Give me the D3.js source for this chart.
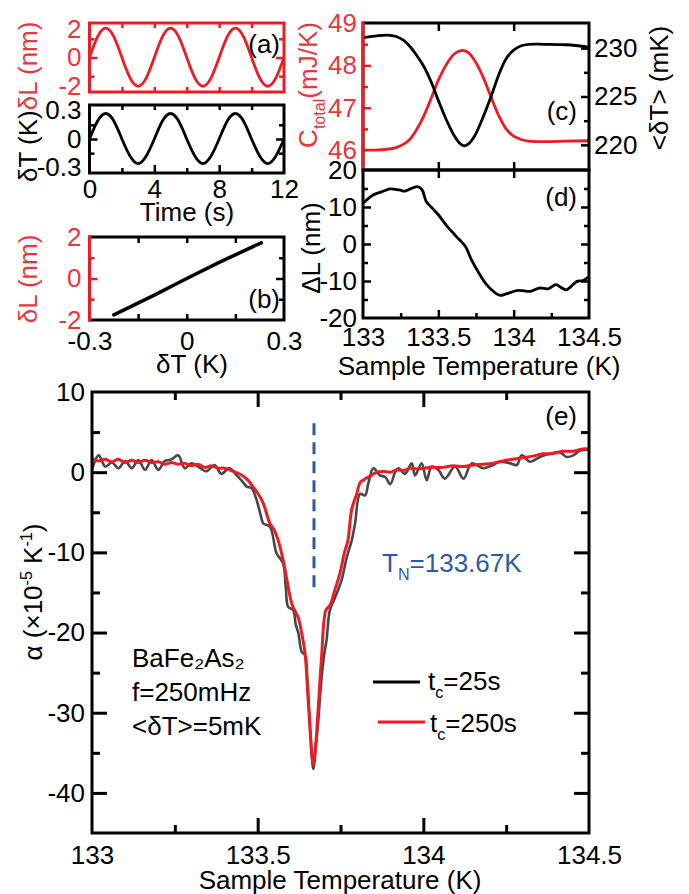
<!DOCTYPE html>
<html><head><meta charset="utf-8">
<script src="https://cdn.jsdelivr.net/npm/d3@7"></script>
<style>body{margin:0;background:#fff}svg{display:block}</style>
</head><body><script>
// ---------------- DATA ----------------
// (a) time traces
const timeS = [0,0.5,1,1.5,2,2.5,3,3.5,4,4.5,5,5.5,6,6.5,7,7.5,8,8.5,9,9.5,10,10.5,11,11.5,12];
const dLnm  = [0,1.45,2.05,1.45,0,-1.42,-2.0,-1.42,0,1.45,2.05,1.45,0,-1.42,-2.0,-1.42,0,1.45,2.05,1.45,0,-1.42,-2.0,-1.42,0];
const dTK   = [0,0.19,0.27,0.19,0,-0.18,-0.26,-0.18,0,0.19,0.27,0.19,0,-0.18,-0.26,-0.18,0,0.19,0.27,0.19,0,-0.18,-0.26,-0.18,0];
// (b) dL vs dT
const bDT = [-0.225,-0.1,0,0.1,0.23];
const bDL = [-1.75,-0.8,0.0,0.78,1.72];
// (c) C_total and <dT> vs temperature
const cTemp  = [133.0,133.08,133.16,133.22,133.27,133.31,133.35,133.4,133.45,133.5,133.55,133.6,133.64,133.67,133.7,133.74,133.79,133.85,133.9,133.95,134.0,134.05,134.1,134.2,134.35,134.5];
const cTotal = [46.0,46.0,46.02,46.06,46.14,46.25,46.45,46.78,47.2,47.65,48.0,48.25,48.34,48.35,48.3,48.12,47.78,47.25,46.82,46.5,46.33,46.25,46.21,46.2,46.21,46.22];
const dTmean = [231.1,231.25,231.35,231.2,230.8,230.2,229.4,228.2,226.6,224.6,222.7,221.1,220.2,219.9,220.1,220.9,222.6,225.0,227.2,228.9,229.8,230.25,230.4,230.4,230.35,230.1];
// (d) Delta L vs temperature
const dTemp = [133.0,133.07,133.13,133.18,133.24,133.28,133.31,133.36,133.39,133.42,133.46,133.5,133.56,133.62,133.68,133.72,133.77,133.82,133.88,133.91,133.95,134.02,134.06,134.11,134.17,134.23,134.28,134.32,134.35,134.38,134.42,134.46,134.5];
const deltaL = [11.0,13.3,14.2,14.9,14.6,14.3,14.8,15.5,14.8,11.5,9.7,7.9,4.7,2.0,-0.7,-4.3,-7.9,-11.0,-13.3,-13.9,-13.5,-12.6,-12.6,-12.8,-11.9,-12.1,-11.0,-11.9,-12.4,-11.5,-10.1,-9.9,-8.8];
// (e) thermal expansion, tc = 25 s (dark) and tc = 250 s (red)
const eTempA = [133.0,133.02,133.04,133.06,133.08,133.1,133.12,133.14,133.16,133.18,133.2,133.22,133.24,133.26,133.28,133.3,133.32,133.345,133.37,133.39,133.415,133.435,133.455,133.467,133.482,133.497,133.51,133.517,133.537,133.557,133.577,133.585,133.592,133.607,133.615,133.623,133.633,133.643,133.65,133.66,133.668,133.676,133.683,133.69,133.7,133.708,133.718,133.733,133.753,133.769,133.784,133.794,133.809,133.824,133.834,133.849,133.869,133.885,133.9,133.915,133.925,133.945,133.965,133.975,133.995,134.01,134.025,134.045,134.065,134.096,134.121,134.146,134.181,134.211,134.231,134.262,134.282,134.297,134.322,134.352,134.382,134.412,134.432,134.453,134.473,134.5];
const alphaA = [0.3,2.1,0.7,1.2,0.5,1.4,0.5,1.5,0.3,1.5,0.3,1.4,1.6,2.1,0.5,1.1,0.7,0.1,0.9,-0.2,0.5,-0.3,-1.2,-1.8,-2.0,-3.5,-5.5,-6.4,-6.8,-10.1,-11.4,-14.5,-16.8,-17.2,-19.0,-20.1,-22.4,-22.8,-26,-33,-37,-34,-31,-27,-23,-20.9,-17.2,-15.7,-13.5,-10.6,-8.5,-6.4,-2.7,-2.9,-1.4,0.5,-0.4,-0.6,-1.5,0.0,0.5,-0.2,1.1,-0.4,1.1,-1.0,0.7,0.3,-0.8,0.7,-0.8,1.1,0.5,0.9,1.3,1.1,0.9,2.1,1.3,1.9,2.3,2.5,1.9,2.1,2.7,2.8];
const eTempB = [133.0,133.02,133.04,133.06,133.08,133.1,133.12,133.14,133.16,133.18,133.2,133.22,133.24,133.26,133.28,133.3,133.32,133.34,133.36,133.38,133.4,133.42,133.44,133.46,133.475,133.487,133.5,133.517,133.537,133.55,133.562,133.577,133.592,133.603,133.615,133.623,133.633,133.643,133.651,133.658,133.664,133.668,133.673,133.678,133.683,133.693,133.706,133.718,133.733,133.749,133.762,133.772,133.784,133.799,133.809,133.822,133.834,133.86,133.88,133.9,133.92,133.94,133.96,133.98,134.0,134.03,134.06,134.09,134.12,134.15,134.18,134.21,134.24,134.27,134.3,134.33,134.36,134.39,134.42,134.45,134.48,134.5];
const alphaB = [1.7,1.4,1.6,1.3,1.6,1.2,1.5,1.2,1.5,1.2,1.3,1.0,1.2,1.0,1.1,0.8,1.0,0.6,0.8,0.5,0.5,0.2,-0.1,-0.6,-1.2,-1.9,-2.6,-3.9,-6.4,-7.2,-8.5,-11.0,-14.3,-16.4,-17.5,-18.2,-20.1,-22.6,-27.5,-32,-35.5,-36.5,-35,-32.5,-29.3,-23,-17.2,-16.6,-14.7,-12.5,-10.0,-8.6,-4.6,-2.7,-1.3,-0.9,-0.6,0.0,0.1,0.0,0.3,0.2,0.5,0.4,0.5,0.6,0.6,0.8,0.7,0.9,1.0,1.1,1.4,1.6,1.8,2.0,2.3,2.3,2.6,2.6,2.9,2.9];
const TN = 133.67;
// tick values
const tTicksMajor = [4,8], tTicksMinor = [2,6,10], tTickLabels = [0,4,8,12];
const tempTickLabels = [133,133.5,134,134.5], tempMajor = [133.5,134], tempMinor = [133.25,133.75,134.25];

// ---------------- STYLE ----------------
const FONT = "'Liberation Sans', Arial, Helvetica, sans-serif";
const FS = 26;
const RED = "#ed1c24", RED_T = "#e4393c", GRAY = "#474747", BLUE = "#2b5ba8";

const svg = d3.select("body").append("svg").attr("width",689).attr("height",894)
  .attr("font-family", FONT);

function tickSet(orient, scale, pos, values, len, color, sw) {
  const f = {left:d3.axisLeft, right:d3.axisRight, top:d3.axisTop, bottom:d3.axisBottom}[orient];
  const ax = f(scale).tickValues(values).tickSize(-len).tickFormat("");
  const tr = (orient==="left"||orient==="right") ? `translate(${pos},0)` : `translate(0,${pos})`;
  const g = svg.append("g").attr("transform", tr).call(ax);
  g.select(".domain").remove();
  g.selectAll(".tick line").attr("stroke", color).attr("stroke-width", sw||2.5);
}
function labelSet(orient, scale, pos, values, color, pad, fs) {
  const f = {left:d3.axisLeft, right:d3.axisRight, top:d3.axisTop, bottom:d3.axisBottom}[orient];
  const ax = f(scale).tickValues(values).tickSize(0).tickPadding(pad).tickFormat(d => String(d));
  const tr = (orient==="left"||orient==="right") ? `translate(${pos},0)` : `translate(0,${pos})`;
  const g = svg.append("g").attr("transform", tr).call(ax)
    .attr("font-family", FONT).attr("font-size", fs||FS);
  g.select(".domain").remove();
  g.selectAll(".tick line").remove();
  g.selectAll("text").attr("fill", color);
}
function frame(x0,x1,y0,y1,color) {
  svg.append("rect").attr("x",x0).attr("y",y0).attr("width",x1-x0).attr("height",y1-y0)
    .attr("fill","none").attr("stroke",color).attr("stroke-width",3);
}
let clipN = 0;
function clip(x0,x1,y0,y1) {
  const id = "c"+(clipN++);
  svg.append("clipPath").attr("id",id).append("rect").attr("x",x0).attr("y",y0).attr("width",x1-x0).attr("height",y1-y0);
  return `url(#${id})`;
}
function curve(xs, ys, sx, sy, color, w, cp, cv) {
  const pts = xs.map((d,i)=>[sx(d), sy(ys[i])]);
  svg.append("path").attr("d", d3.line().curve(cv||d3.curveCatmullRom.alpha(0.5))(pts))
    .attr("fill","none").attr("stroke",color).attr("stroke-width",w)
    .attr("stroke-linejoin","round").attr("stroke-linecap","round")
    .attr("clip-path", cp);
}
// rich text: parts = [{t, fill, sub, sup}]
function rich(x, y, parts, opts) {
  opts = opts || {};
  const t = svg.append("text").attr("font-size", opts.fs||FS)
    .attr("text-anchor", opts.anchor||"start")
    .attr("transform", `translate(${x},${y})` + (opts.rot ? ` rotate(${opts.rot})` : ""))
    .attr("fill", opts.fill||"#000");
  let shift = 0;
  const base = opts.fs||FS;
  parts.forEach(p => {
    const s = t.append("tspan").text(p.t);
    if (p.fill) s.attr("fill", p.fill);
    let target = 0;
    if (p.sub) { s.attr("font-size", base*0.62); target = base*0.32; }
    if (p.sup) { s.attr("font-size", base*0.62); target = -base*0.38; }
    if (target !== shift) { s.attr("dy", target - shift); shift = target; }
  });
  return t;
}

// ---------------- PANEL (a) ----------------
const xA  = d3.scaleLinear([0,12],[89.5,284]);
const yA1 = d3.scaleLinear([-2.4,2.4],[92,23]);
const yA2 = d3.scaleLinear([-0.36,0.36],[173,105]);
const cpA1 = clip(89.5,284,23,92), cpA2 = clip(89.5,284,105,173);
curve(timeS, dLnm, xA, yA1, RED, 2.8, cpA1, d3.curveNatural);
curve(timeS, dTK, xA, yA2, "#000", 2.8, cpA2, d3.curveNatural);
tickSet("top", xA, 23, tTicksMajor.concat(tTicksMinor), 5, RED);
tickSet("bottom", xA, 92, tTicksMajor.concat(tTicksMinor), 5, RED);
tickSet("left", yA1, 89.5, [0], 8, RED); tickSet("left", yA1, 89.5, [-1.3,1.3], 5, RED);
tickSet("right", yA1, 284, [0], 8, RED); tickSet("right", yA1, 284, [-1.3,1.3], 5, RED);
labelSet("left", yA1, 89.5, [-2,0,2], RED_T, 8);
frame(89.5,284,23,92,RED);
tickSet("top", xA, 105, tTicksMajor.concat(tTicksMinor), 5, "#000");
tickSet("bottom", xA, 173, tTicksMajor, 8, "#000"); tickSet("bottom", xA, 173, tTicksMinor, 5, "#000");
tickSet("left", yA2, 89.5, [0], 8, "#000"); tickSet("left", yA2, 89.5, [-0.15,0.15], 5, "#000");
tickSet("right", yA2, 284, [0], 8, "#000"); tickSet("right", yA2, 284, [-0.15,0.15], 5, "#000");
labelSet("left", yA2, 89.5, [-0.3,0,0.3], "#000", 8);
labelSet("bottom", xA, 173, tTickLabels, "#000", 7);
frame(89.5,284,105,173,"#000");
rich(280, 53, [{t:"(a)"}], {anchor:"end"});
rich(187, 221, [{t:"Time (s)"}], {anchor:"middle"});
rich(37, 182, [{t:"δT (K)", fill:"#000"},{t:"δL (nm)", fill:RED_T}], {rot:-90});

// ---------------- PANEL (b) ----------------
const xB = d3.scaleLinear([-0.3,0.3],[89.5,284]);
const yB = d3.scaleLinear([-2,2],[320,237]);
curve(bDT, bDL, xB, yB, "#000", 3.5, clip(89.5,284,237,320), d3.curveLinear);
tickSet("top", xB, 237, [-0.15,0,0.15], 6, "#000");
tickSet("bottom", xB, 320, [-0.15,0,0.15], 6, "#000");
tickSet("left", yB, 89.5, [0], 8, RED); tickSet("left", yB, 89.5, [-1,1], 5, RED);
tickSet("right", yB, 284, [0], 8, "#000"); tickSet("right", yB, 284, [-1,1], 5, "#000");
frame(89.5,284,237,320,"#000");
svg.append("line").attr("x1",89.5).attr("x2",89.5).attr("y1",235.5).attr("y2",321.5).attr("stroke",RED).attr("stroke-width",3);
labelSet("left", yB, 89.5, [-2,0,2], RED_T, 8);
labelSet("bottom", xB, 320, [-0.3,0,0.3], "#000", 12);
rich(280, 308, [{t:"(b)"}], {anchor:"end"});
rich(192, 373, [{t:"δT (K)"}], {anchor:"middle"});
rich(37, 279, [{t:"δL (nm)"}], {rot:-90, anchor:"middle", fill:RED_T});

// ---------------- PANEL (c) ----------------
const xC = d3.scaleLinear([133,134.5],[363,589]);
const yC = d3.scaleLinear([45.53,49],[170,23]);
const yC2 = d3.scaleLinear([217.4,232.6],[170,23]);
const cpC = clip(363,589,23,170);
curve(cTemp, cTotal, xC, yC, RED, 2.8, cpC);
curve(cTemp, dTmean, xC, yC2, "#000", 2.8, cpC);
tickSet("top", xC, 23, tempMajor, 8, "#000");
tickSet("bottom", xC, 170, tempMajor, 8, "#000");
tickSet("left", yC, 363, [47,48], 8, RED); tickSet("left", yC, 363, [46.5,47.5,48.5], 5, RED);
tickSet("right", yC2, 589, [220,225,230], 8, "#000"); tickSet("right", yC2, 589, [222.5,227.5], 5, "#000");
frame(363,589,23,170,"#000");
svg.append("line").attr("x1",363).attr("x2",363).attr("y1",21.5).attr("y2",170).attr("stroke",RED).attr("stroke-width",3);
labelSet("left", yC, 363, [46,47,48,49], RED_T, 6);
labelSet("right", yC2, 589, [220,225,230], "#000", 5);
rich(577, 120, [{t:"(c)"}], {anchor:"end"});
rich(317, 85, [{t:"C"},{t:"total", sub:true},{t:"(mJ/K)"}], {rot:-90, anchor:"middle", fill:RED_T});
rich(668, 88, [{t:"<δT> (mK)"}], {rot:-90, anchor:"middle"});

// ---------------- PANEL (d) ----------------
const yD = d3.scaleLinear([-20,20],[318,170]);
curve(dTemp, deltaL, xC, yD, "#000", 2.8, clip(363,589,170,318));
tickSet("bottom", xC, 318, tempMajor, 8, "#000"); tickSet("bottom", xC, 318, tempMinor, 5, "#000");
tickSet("top", xC, 170, tempMajor, 8, "#000");
tickSet("left", yD, 363, [-10,0,10], 8, "#000"); tickSet("left", yD, 363, [-15,-5,5,15], 5, "#000");
tickSet("right", yD, 589, [-10,0,10], 8, "#000"); tickSet("right", yD, 589, [-15,-5,5,15], 5, "#000");
frame(363,589,170,318,"#000");
labelSet("left", yD, 363, [-20,-10,0,10,20], "#000", 6);
labelSet("bottom", xC, 318, tempTickLabels, "#000", 10);
rich(577, 206, [{t:"(d)"}], {anchor:"end"});
rich(320, 248, [{t:"ΔL (nm)"}], {rot:-90, anchor:"middle"});
rich(479, 375, [{t:"Sample Temperature (K)"}], {anchor:"middle"});

// ---------------- PANEL (e) ----------------
const xE = d3.scaleLinear([133,134.5],[92,589]);
const yE = d3.scaleLinear([-45,10],[833,392]);
const cpE = clip(92,589,392,833);
svg.append("line").attr("x1",xE(TN)).attr("x2",xE(TN)).attr("y1",yE(6.1)).attr("y2",yE(-15))
  .attr("stroke",BLUE).attr("stroke-width",3).attr("stroke-dasharray","12,7");
curve(eTempA, alphaA, xE, yE, GRAY, 2.6, cpE);
curve(eTempB, alphaB, xE, yE, RED, 3, cpE);
tickSet("top", xE, 392, tempMajor, 15, "#000", 3); tickSet("top", xE, 392, tempMinor, 8, "#000", 3);
tickSet("bottom", xE, 833, tempMajor, 15, "#000", 3); tickSet("bottom", xE, 833, tempMinor, 8, "#000", 3);
tickSet("left", yE, 92, [0,-10,-20,-30,-40], 15, "#000", 3); tickSet("left", yE, 92, [5,-5,-15,-25,-35], 8, "#000", 3);
tickSet("right", yE, 589, [0,-10,-20,-30,-40], 15, "#000", 3); tickSet("right", yE, 589, [5,-5,-15,-25,-35], 8, "#000", 3);
frame(92,589,392,833,"#000");
labelSet("left", yE, 92, [10,0,-10,-20,-30,-40], "#000", 7);
labelSet("bottom", xE, 833, tempTickLabels, "#000", 13);
rich(577, 425, [{t:"(e)"}], {anchor:"end"});
rich(340, 889, [{t:"Sample Temperature (K)"}], {anchor:"middle"});
rich(42, 592, [{t:"α (×10"},{t:"-5", sup:true},{t:" K"},{t:"-1", sup:true},{t:")"}], {rot:-90, anchor:"middle"});
rich(382, 572, [{t:"T"},{t:"N", sub:true},{t:"=133.67K"}], {fill:BLUE});
rich(132, 667, [{t:"BaFe₂As₂"}]);
rich(132, 701, [{t:"f=250mHz"}]);
rich(132, 735, [{t:"<δT>=5mK"}]);
// legend
svg.append("line").attr("x1",373).attr("x2",420).attr("y1",682).attr("y2",682).attr("stroke","#000").attr("stroke-width",3);
rich(428, 690, [{t:"t"},{t:"c", sub:true},{t:"=25s"}]);
svg.append("line").attr("x1",378).attr("x2",425).attr("y1",722).attr("y2",722).attr("stroke",RED).attr("stroke-width",3);
rich(430, 732, [{t:"t"},{t:"c", sub:true},{t:"=250s"}]);
</script></body></html>
